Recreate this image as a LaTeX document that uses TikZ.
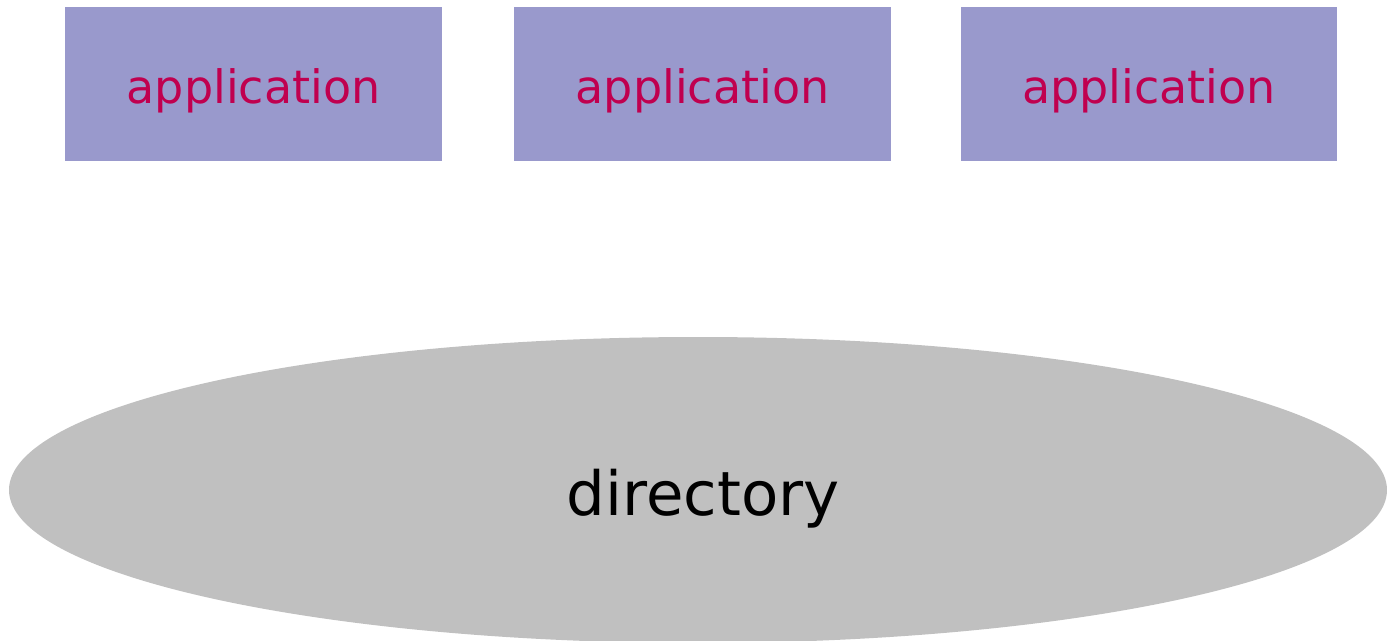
\documentclass[tikz,border=0pt]{standalone}
\usepackage{fontspec}
\setmainfont{DejaVu Sans}
\usetikzlibrary{shapes.geometric}
\definecolor{boxfill}{HTML}{9999CC}
\definecolor{apptext}{HTML}{C0004F}
\definecolor{dirfill}{HTML}{C0C0C0}
\tikzset{
  appbox/.style={fill=boxfill, draw=none},
  applabel/.style={text=apptext, font=\fontsize{46}{50}\selectfont, anchor=base, inner sep=0pt},
  dirlabel/.style={text=black, font=\fontsize{61}{66}\selectfont, anchor=base, inner sep=0pt}
}
\begin{document}
\begin{tikzpicture}[x=1pt,y=-1pt]
  \useasboundingbox (0,0) rectangle (1387,640);
  \begin{scope}
    \clip (0,0) rectangle (1387,640);
    \fill[dirfill] (698,490) ellipse [x radius=689, y radius=153];
  \end{scope}
  \coordinate (dirc) at (698,490);
  \node[dirlabel] (dir) at (703,515) {directory};
  \fill[appbox] (65,7) rectangle (442,161);
  \fill[appbox] (514,7) rectangle (891,161);
  \fill[appbox] (961,7) rectangle (1337,161);
  \node[applabel] (app1) at (253.5,103) {application};
  \node[applabel] (app2) at (702.5,103) {application};
  \node[applabel] (app3) at (1149,103) {application};
\end{tikzpicture}
\end{document}
